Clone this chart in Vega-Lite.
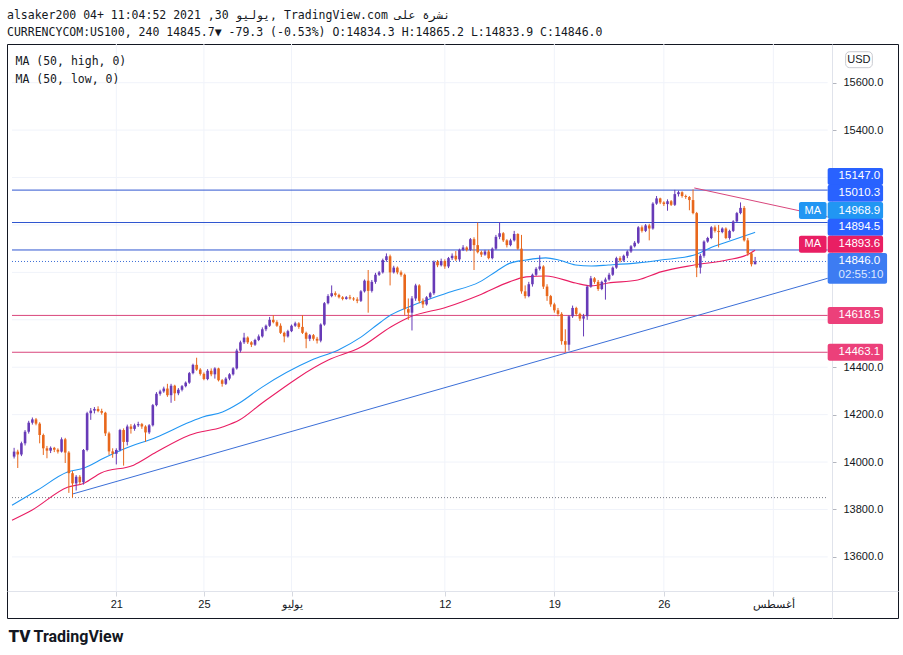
{
"$schema": "https://vega.github.io/schema/vega-lite/v6.json",
"width": 891, "height": 574,
"autosize": {"type": "none"},
"padding": {"left": 7, "top": 44, "right": 5, "bottom": 37},
"background": "white",
"config": {"view": {"stroke": "#131722", "strokeWidth": 1}, "font": "Liberation Sans"},
"title": {"text": "alsaker200 04+ 11:04:52 2021 ,30 يوليو, TradingView.com نشرة على", "subtitle": "CURRENCYCOM:US100, 240 14845.7▼ -79.3 (-0.53%) O:14834.3 H:14865.2 L:14833.9 C:14846.0", "anchor": "start", "frame": "group", "font": "DejaVu Sans Mono", "fontSize": 11.5, "fontWeight": "normal", "color": "#131722", "subtitleFont": "DejaVu Sans Mono", "subtitleFontSize": 11.5, "subtitleColor": "#131722", "subtitlePadding": 6, "offset": 5},
"datasets": {
"bars": [
{"t":-4.667,"o":14023,"h":14060,"l":14015,"c":14044},
{"t":-4.5,"o":14044,"h":14052,"l":13975,"c":14032},
{"t":-4.333,"o":14032,"h":14086,"l":14025,"c":14079},
{"t":-4.167,"o":14079,"h":14135,"l":14070,"c":14128},
{"t":-4,"o":14128,"h":14174,"l":14120,"c":14166},
{"t":-3.833,"o":14166,"h":14188,"l":14158,"c":14180},
{"t":-3.667,"o":14180,"h":14186,"l":14155,"c":14162},
{"t":-3.5,"o":14162,"h":14168,"l":14079,"c":14114},
{"t":-3.333,"o":14114,"h":14120,"l":14030,"c":14058},
{"t":-3.167,"o":14058,"h":14068,"l":14016,"c":14048},
{"t":-3,"o":14048,"h":14066,"l":14038,"c":14060},
{"t":-2.833,"o":14060,"h":14064,"l":14042,"c":14052},
{"t":-2.667,"o":14052,"h":14058,"l":14036,"c":14044},
{"t":-2.5,"o":14044,"h":14104,"l":14040,"c":14096},
{"t":-2.333,"o":14096,"h":14102,"l":13996,"c":14040},
{"t":-2.167,"o":14040,"h":14046,"l":13870,"c":13953},
{"t":-2,"o":13953,"h":13962,"l":13850,"c":13910},
{"t":-1.833,"o":13910,"h":13945,"l":13880,"c":13938},
{"t":-1.667,"o":13938,"h":13945,"l":13905,"c":13915},
{"t":-1.5,"o":13915,"h":14055,"l":13905,"c":14051},
{"t":-1.333,"o":14051,"h":14212,"l":14045,"c":14206},
{"t":-1.167,"o":14206,"h":14228,"l":14178,"c":14217},
{"t":-1,"o":14217,"h":14232,"l":14205,"c":14224},
{"t":-0.833,"o":14224,"h":14235,"l":14210,"c":14215},
{"t":-0.667,"o":14215,"h":14225,"l":14200,"c":14208},
{"t":-0.5,"o":14208,"h":14212,"l":14110,"c":14121},
{"t":-0.333,"o":14121,"h":14128,"l":14030,"c":14045},
{"t":-0.167,"o":14045,"h":14058,"l":14018,"c":14035},
{"t":0,"o":14035,"h":14058,"l":13990,"c":14051},
{"t":0.167,"o":14051,"h":14140,"l":14045,"c":14135},
{"t":0.333,"o":14135,"h":14142,"l":13985,"c":14085},
{"t":0.5,"o":14085,"h":14158,"l":14070,"c":14150},
{"t":0.667,"o":14150,"h":14160,"l":14120,"c":14140},
{"t":0.833,"o":14140,"h":14162,"l":14132,"c":14155},
{"t":1,"o":14155,"h":14170,"l":14148,"c":14160},
{"t":1.167,"o":14160,"h":14165,"l":14140,"c":14150},
{"t":1.333,"o":14150,"h":14155,"l":14085,"c":14125},
{"t":1.5,"o":14125,"h":14160,"l":14118,"c":14155},
{"t":1.667,"o":14155,"h":14245,"l":14150,"c":14240},
{"t":1.833,"o":14240,"h":14295,"l":14235,"c":14288},
{"t":2,"o":14288,"h":14305,"l":14280,"c":14298},
{"t":2.167,"o":14298,"h":14318,"l":14292,"c":14310},
{"t":2.333,"o":14310,"h":14330,"l":14275,"c":14282},
{"t":2.5,"o":14282,"h":14330,"l":14250,"c":14322},
{"t":2.667,"o":14322,"h":14326,"l":14258,"c":14290},
{"t":2.833,"o":14290,"h":14312,"l":14282,"c":14305},
{"t":3,"o":14305,"h":14325,"l":14298,"c":14320},
{"t":3.167,"o":14320,"h":14340,"l":14315,"c":14335},
{"t":3.333,"o":14335,"h":14380,"l":14330,"c":14375},
{"t":3.5,"o":14375,"h":14415,"l":14370,"c":14410},
{"t":3.667,"o":14410,"h":14440,"l":14385,"c":14390},
{"t":3.833,"o":14390,"h":14396,"l":14365,"c":14372},
{"t":4,"o":14372,"h":14378,"l":14345,"c":14350},
{"t":4.167,"o":14350,"h":14392,"l":14345,"c":14385},
{"t":4.333,"o":14385,"h":14395,"l":14362,"c":14370},
{"t":4.5,"o":14370,"h":14400,"l":14352,"c":14395},
{"t":4.667,"o":14395,"h":14398,"l":14340,"c":14345},
{"t":4.833,"o":14345,"h":14350,"l":14318,"c":14330},
{"t":5,"o":14330,"h":14358,"l":14325,"c":14352},
{"t":5.167,"o":14352,"h":14375,"l":14345,"c":14370},
{"t":5.333,"o":14370,"h":14400,"l":14365,"c":14395},
{"t":5.5,"o":14395,"h":14478,"l":14390,"c":14470},
{"t":5.667,"o":14470,"h":14512,"l":14462,"c":14505},
{"t":5.833,"o":14505,"h":14545,"l":14498,"c":14525},
{"t":6,"o":14525,"h":14530,"l":14498,"c":14505},
{"t":6.167,"o":14505,"h":14510,"l":14485,"c":14495},
{"t":6.333,"o":14495,"h":14520,"l":14490,"c":14515},
{"t":6.5,"o":14515,"h":14538,"l":14510,"c":14530},
{"t":6.667,"o":14530,"h":14568,"l":14525,"c":14560},
{"t":6.833,"o":14560,"h":14580,"l":14552,"c":14575},
{"t":7,"o":14575,"h":14612,"l":14570,"c":14600},
{"t":7.167,"o":14600,"h":14620,"l":14585,"c":14590},
{"t":7.333,"o":14590,"h":14598,"l":14570,"c":14575},
{"t":7.5,"o":14575,"h":14585,"l":14540,"c":14545},
{"t":7.667,"o":14545,"h":14550,"l":14505,"c":14530},
{"t":7.833,"o":14530,"h":14558,"l":14525,"c":14552},
{"t":8,"o":14552,"h":14580,"l":14548,"c":14575},
{"t":8.167,"o":14575,"h":14592,"l":14570,"c":14585},
{"t":8.333,"o":14585,"h":14590,"l":14562,"c":14570},
{"t":8.5,"o":14570,"h":14620,"l":14540,"c":14545},
{"t":8.667,"o":14545,"h":14550,"l":14480,"c":14520},
{"t":8.833,"o":14520,"h":14540,"l":14510,"c":14535},
{"t":9,"o":14535,"h":14540,"l":14512,"c":14520},
{"t":9.167,"o":14520,"h":14528,"l":14500,"c":14512},
{"t":9.333,"o":14512,"h":14585,"l":14505,"c":14580},
{"t":9.5,"o":14580,"h":14675,"l":14575,"c":14670},
{"t":9.667,"o":14670,"h":14708,"l":14665,"c":14700},
{"t":9.833,"o":14700,"h":14745,"l":14695,"c":14712},
{"t":10,"o":14712,"h":14720,"l":14698,"c":14705},
{"t":10.167,"o":14705,"h":14710,"l":14690,"c":14695},
{"t":10.333,"o":14695,"h":14700,"l":14682,"c":14688},
{"t":10.5,"o":14688,"h":14700,"l":14685,"c":14695},
{"t":10.667,"o":14695,"h":14705,"l":14685,"c":14690},
{"t":10.833,"o":14690,"h":14696,"l":14680,"c":14686},
{"t":11,"o":14686,"h":14695,"l":14670,"c":14680},
{"t":11.167,"o":14680,"h":14725,"l":14675,"c":14720},
{"t":11.333,"o":14720,"h":14770,"l":14715,"c":14765},
{"t":11.5,"o":14765,"h":14810,"l":14630,"c":14722},
{"t":11.667,"o":14722,"h":14768,"l":14715,"c":14760},
{"t":11.833,"o":14760,"h":14798,"l":14752,"c":14790},
{"t":12,"o":14790,"h":14806,"l":14785,"c":14800},
{"t":12.167,"o":14800,"h":14858,"l":14795,"c":14852},
{"t":12.333,"o":14852,"h":14880,"l":14845,"c":14868},
{"t":12.5,"o":14868,"h":14875,"l":14745,"c":14800},
{"t":12.667,"o":14800,"h":14828,"l":14795,"c":14820},
{"t":12.833,"o":14820,"h":14825,"l":14792,"c":14800},
{"t":13,"o":14800,"h":14808,"l":14782,"c":14790},
{"t":13.167,"o":14790,"h":14795,"l":14620,"c":14645},
{"t":13.333,"o":14645,"h":14690,"l":14600,"c":14630},
{"t":13.5,"o":14630,"h":14700,"l":14555,"c":14690},
{"t":13.667,"o":14690,"h":14752,"l":14680,"c":14745},
{"t":13.833,"o":14745,"h":14750,"l":14670,"c":14680},
{"t":14,"o":14680,"h":14690,"l":14650,"c":14665},
{"t":14.167,"o":14665,"h":14700,"l":14660,"c":14695},
{"t":14.333,"o":14695,"h":14718,"l":14690,"c":14712},
{"t":14.5,"o":14712,"h":14850,"l":14705,"c":14845},
{"t":14.667,"o":14845,"h":14852,"l":14822,"c":14830},
{"t":14.833,"o":14830,"h":14858,"l":14825,"c":14848},
{"t":15,"o":14848,"h":14855,"l":14815,"c":14825},
{"t":15.167,"o":14825,"h":14865,"l":14818,"c":14860},
{"t":15.333,"o":14860,"h":14880,"l":14852,"c":14870},
{"t":15.5,"o":14870,"h":14890,"l":14848,"c":14855},
{"t":15.667,"o":14855,"h":14900,"l":14848,"c":14895},
{"t":15.833,"o":14895,"h":14915,"l":14890,"c":14905},
{"t":16,"o":14905,"h":14910,"l":14888,"c":14895},
{"t":16.167,"o":14895,"h":14945,"l":14890,"c":14940},
{"t":16.333,"o":14940,"h":14948,"l":14810,"c":14915},
{"t":16.5,"o":14915,"h":15010,"l":14880,"c":14885},
{"t":16.667,"o":14885,"h":14892,"l":14865,"c":14875},
{"t":16.833,"o":14875,"h":14895,"l":14870,"c":14888},
{"t":17,"o":14888,"h":14895,"l":14855,"c":14860},
{"t":17.167,"o":14860,"h":14905,"l":14855,"c":14900},
{"t":17.333,"o":14900,"h":14958,"l":14895,"c":14950},
{"t":17.5,"o":14950,"h":15012,"l":14940,"c":14965},
{"t":17.667,"o":14965,"h":14970,"l":14928,"c":14935},
{"t":17.833,"o":14935,"h":14940,"l":14905,"c":14915},
{"t":18,"o":14915,"h":14942,"l":14910,"c":14935},
{"t":18.167,"o":14935,"h":14975,"l":14930,"c":14962},
{"t":18.333,"o":14962,"h":14965,"l":14895,"c":14900},
{"t":18.5,"o":14900,"h":14958,"l":14710,"c":14720},
{"t":18.667,"o":14720,"h":14745,"l":14690,"c":14700},
{"t":18.833,"o":14700,"h":14760,"l":14695,"c":14750},
{"t":19,"o":14750,"h":14795,"l":14740,"c":14790},
{"t":19.167,"o":14790,"h":14822,"l":14785,"c":14815},
{"t":19.333,"o":14815,"h":14872,"l":14808,"c":14825},
{"t":19.5,"o":14825,"h":14830,"l":14730,"c":14740},
{"t":19.667,"o":14740,"h":14750,"l":14680,"c":14700},
{"t":19.833,"o":14700,"h":14705,"l":14655,"c":14665},
{"t":20,"o":14665,"h":14672,"l":14630,"c":14640},
{"t":20.167,"o":14640,"h":14650,"l":14615,"c":14625},
{"t":20.333,"o":14625,"h":14632,"l":14495,"c":14510},
{"t":20.5,"o":14510,"h":14560,"l":14463,"c":14495},
{"t":20.667,"o":14495,"h":14620,"l":14470,"c":14615},
{"t":20.833,"o":14615,"h":14660,"l":14608,"c":14650},
{"t":21,"o":14650,"h":14655,"l":14615,"c":14625},
{"t":21.167,"o":14625,"h":14630,"l":14595,"c":14605},
{"t":21.333,"o":14605,"h":14625,"l":14530,"c":14615},
{"t":21.5,"o":14615,"h":14745,"l":14600,"c":14740},
{"t":21.667,"o":14740,"h":14785,"l":14735,"c":14775},
{"t":21.833,"o":14775,"h":14780,"l":14752,"c":14760},
{"t":22,"o":14760,"h":14768,"l":14722,"c":14730},
{"t":22.167,"o":14730,"h":14765,"l":14725,"c":14760},
{"t":22.333,"o":14760,"h":14778,"l":14685,"c":14770},
{"t":22.5,"o":14770,"h":14798,"l":14765,"c":14790},
{"t":22.667,"o":14790,"h":14825,"l":14785,"c":14820},
{"t":22.833,"o":14820,"h":14866,"l":14815,"c":14860},
{"t":23,"o":14860,"h":14868,"l":14842,"c":14850},
{"t":23.167,"o":14850,"h":14875,"l":14845,"c":14870},
{"t":23.333,"o":14870,"h":14893,"l":14860,"c":14888},
{"t":23.5,"o":14888,"h":14915,"l":14882,"c":14910},
{"t":23.667,"o":14910,"h":14932,"l":14905,"c":14925},
{"t":23.833,"o":14925,"h":14995,"l":14920,"c":14990},
{"t":24,"o":14990,"h":14998,"l":14968,"c":14975},
{"t":24.167,"o":14975,"h":15004,"l":14970,"c":14998},
{"t":24.333,"o":14998,"h":15005,"l":14935,"c":14985},
{"t":24.5,"o":14985,"h":15096,"l":14980,"c":15090},
{"t":24.667,"o":15090,"h":15122,"l":15085,"c":15112},
{"t":24.833,"o":15112,"h":15115,"l":15088,"c":15095},
{"t":25,"o":15095,"h":15100,"l":15080,"c":15088},
{"t":25.167,"o":15088,"h":15108,"l":15060,"c":15100},
{"t":25.333,"o":15100,"h":15105,"l":15080,"c":15085},
{"t":25.5,"o":15085,"h":15148,"l":15080,"c":15130},
{"t":25.667,"o":15130,"h":15145,"l":15120,"c":15138},
{"t":25.833,"o":15138,"h":15142,"l":15115,"c":15122},
{"t":26,"o":15122,"h":15128,"l":15110,"c":15118},
{"t":26.167,"o":15118,"h":15122,"l":15062,"c":15105},
{"t":26.333,"o":15105,"h":15150,"l":15045,"c":15050},
{"t":26.5,"o":15050,"h":15055,"l":14780,"c":14820},
{"t":26.667,"o":14820,"h":14878,"l":14795,"c":14870},
{"t":26.833,"o":14870,"h":14935,"l":14862,"c":14930},
{"t":27,"o":14930,"h":14950,"l":14925,"c":14945},
{"t":27.167,"o":14945,"h":14995,"l":14940,"c":14990},
{"t":27.333,"o":14990,"h":14998,"l":14968,"c":14975},
{"t":27.5,"o":14975,"h":15000,"l":14905,"c":14970},
{"t":27.667,"o":14970,"h":14990,"l":14965,"c":14985},
{"t":27.833,"o":14985,"h":14990,"l":14940,"c":14945},
{"t":28,"o":14945,"h":14980,"l":14938,"c":14975},
{"t":28.167,"o":14975,"h":15020,"l":14970,"c":15015},
{"t":28.333,"o":15015,"h":15055,"l":15010,"c":15050},
{"t":28.5,"o":15050,"h":15095,"l":15045,"c":15072},
{"t":28.667,"o":15072,"h":15080,"l":14930,"c":14935},
{"t":28.833,"o":14935,"h":14945,"l":14870,"c":14880},
{"t":29,"o":14880,"h":14885,"l":14825,"c":14834.3},
{"t":29.167,"o":14834.3,"h":14865.2,"l":14833.9,"c":14846.0}
],
"ma": [
{"t":-4.763,"s":"h","v":13818},{"t":-3.59,"s":"h","v":13882},{"t":-2.23,"s":"h","v":13958},{"t":-1.47,"s":"h","v":13975},{"t":-0.56,"s":"h","v":14017},{"t":0.34,"s":"h","v":14055},{"t":1.83,"s":"h","v":14105},{"t":3.36,"s":"h","v":14169},{"t":3.95,"s":"h","v":14190},{"t":4.85,"s":"h","v":14211},{"t":5.62,"s":"h","v":14249},{"t":6.66,"s":"h","v":14316},{"t":8.92,"s":"h","v":14430},{"t":10.14,"s":"h","v":14473},{"t":11.17,"s":"h","v":14527},{"t":12.08,"s":"h","v":14591},{"t":12.53,"s":"h","v":14620},{"t":13.57,"s":"h","v":14662},{"t":15.1,"s":"h","v":14713},{"t":16.59,"s":"h","v":14760},{"t":17.36,"s":"h","v":14805},{"t":17.95,"s":"h","v":14838},{"t":18.71,"s":"h","v":14852},{"t":19.61,"s":"h","v":14861},{"t":20.2,"s":"h","v":14852},{"t":20.97,"s":"h","v":14831},{"t":21.69,"s":"h","v":14827},{"t":22.46,"s":"h","v":14831},{"t":23.81,"s":"h","v":14840},{"t":24.86,"s":"h","v":14852},{"t":26.39,"s":"h","v":14873},{"t":27.11,"s":"h","v":14903},{"t":27.88,"s":"h","v":14928},{"t":29.167,"s":"h","v":14968.9},
{"t":-4.763,"s":"l","v":13755},{"t":-3.86,"s":"l","v":13797},{"t":-2.23,"s":"l","v":13894},{"t":-1.47,"s":"l","v":13911},{"t":-0.7,"s":"l","v":13954},{"t":0.79,"s":"l","v":13987},{"t":1.83,"s":"l","v":14042},{"t":3.36,"s":"l","v":14114},{"t":4.85,"s":"l","v":14148},{"t":5.62,"s":"l","v":14177},{"t":6.66,"s":"l","v":14249},{"t":9.68,"s":"l","v":14430},{"t":11.17,"s":"l","v":14485},{"t":12.53,"s":"l","v":14570},{"t":13.3,"s":"l","v":14608},{"t":15.1,"s":"l","v":14654},{"t":16.59,"s":"l","v":14705},{"t":17.95,"s":"l","v":14760},{"t":18.71,"s":"l","v":14781},{"t":19.61,"s":"l","v":14785},{"t":20.97,"s":"l","v":14755},{"t":21.69,"s":"l","v":14743},{"t":22.46,"s":"l","v":14755},{"t":23.81,"s":"l","v":14768},{"t":24.86,"s":"l","v":14802},{"t":26.39,"s":"l","v":14831},{"t":27.88,"s":"l","v":14852},{"t":28.78,"s":"l","v":14873},{"t":29.167,"s":"l","v":14893.6}
],
"hl": [
{"v":15147.0,"k":"b"},{"v":15010.3,"k":"b"},{"v":14894.5,"k":"b"},{"v":14618.5,"k":"p"},{"v":14463.1,"k":"p"},{"v":14846.0,"k":"cur"},{"v":13850,"k":"low"}
],
"tl": [
{"t":-2.009,"v":13865,"g":"up"},{"t":32.48,"v":14775,"g":"up"},{"t":26.39,"v":15156,"g":"dn"},{"t":32.48,"v":15034,"g":"dn"}
],
"tags": [
{"v":15147.0,"s":"15147.0","k":"b"},{"v":15010.3,"s":"15010.3","k":"b"},{"v":14968.9,"s":"14968.9","k":"mah"},{"v":14894.5,"s":"14894.5","k":"b"},{"v":14893.6,"s":"14893.6","k":"mal"},{"v":14846.0,"s":"14846.0","k":"cur"},{"v":14618.5,"s":"14618.5","k":"p"},{"v":14463.1,"s":"14463.1","k":"p"}
],
"gx": [{"t":0},{"t":4},{"t":8},{"t":15},{"t":20},{"t":25},{"t":30}],
"gy": [{"v":13600},{"v":13800},{"v":14000},{"v":14200},{"v":14400},{"v":14600},{"v":14800},{"v":15000},{"v":15200},{"v":15400},{"v":15600}]
},
"layer": [
{"data": {"name": "gx"},
 "mark": {"type": "rule", "color": "#f0f3fa", "strokeWidth": 1},
 "encoding": {
  "x": {"field": "t", "type": "quantitative", "scale": {"domain": [-4.763, 35.463], "nice": false, "zero": false},
   "axis": {"orient": "bottom", "offset": -27, "values": [0,4,8,15,20,25,30], "labelExpr": "datum.value==0?'21':datum.value==4?'25':datum.value==8?'يوليو':datum.value==15?'12':datum.value==20?'19':datum.value==25?'26':'أغسطس'", "labelFont": "Liberation Sans", "labelFontSize": 11, "labelColor": "#131722", "tickColor": "#d6d9e0", "tickSize": 5, "labelPadding": 2, "domainColor": "#e0e3eb", "grid": false, "labelFlush": false, "labelOverlap": false, "title": "TradingView", "titleFont": "Roboto", "titleFontSize": 16, "titleFontWeight": "bold", "titleColor": "#131722", "titleX": 26, "titleY": 45, "titleAlign": "left", "titleBaseline": "middle", "titleAngle": 0}},
  "y": {"datum": 15763.2, "type": "quantitative", "scale": {"domain": [13342.3, 15763.2], "nice": false, "zero": false},
   "axis": {"orient": "right", "offset": -66, "values": [13600,13800,14000,14200,14400,15400,15600], "format": ".1f", "labelFont": "Liberation Sans", "labelFontSize": 11, "labelColor": "#131722", "tickSize": 4, "tickColor": "#b2b5be", "labelPadding": 7, "domainColor": "#e0e3eb", "grid": false, "labelFlush": false, "labelOverlap": false, "title": "TV", "titleFont": "Roboto", "titleFontSize": 17, "titleFontWeight": 900, "titleColor": "#131722", "titleAngle": 0, "titleX": -824, "titleY": 592, "titleAlign": "left", "titleBaseline": "middle"}},
  "y2": {"datum": 13456.2}
 }},
{"data": {"name": "gy"},
 "mark": {"type": "rule", "color": "#f0f3fa", "strokeWidth": 1},
 "encoding": {
  "y": {"field": "v", "type": "quantitative", "scale": {"domain": [13342.3, 15763.2], "nice": false, "zero": false}},
  "x": {"datum": -4.763, "type": "quantitative", "scale": {"domain": [-4.763, 35.463], "nice": false, "zero": false}},
  "x2": {"datum": 32.48}
 }},
{"data": {"name": "hl"},
 "transform": [{"filter": "datum.k == 'b'"}],
 "mark": {"type": "rule", "color": "#2f56d0", "strokeWidth": 1},
 "encoding": {
  "y": {"field": "v", "type": "quantitative", "scale": {"domain": [13342.3, 15763.2], "nice": false, "zero": false}},
  "x": {"datum": -4.763, "type": "quantitative", "scale": {"domain": [-4.763, 35.463], "nice": false, "zero": false}},
  "x2": {"datum": 32.48}
 }},
{"data": {"name": "hl"},
 "transform": [{"filter": "datum.k == 'p'"}],
 "mark": {"type": "rule", "color": "#d9467c", "strokeWidth": 1},
 "encoding": {
  "y": {"field": "v", "type": "quantitative", "scale": {"domain": [13342.3, 15763.2], "nice": false, "zero": false}},
  "x": {"datum": -4.763, "type": "quantitative", "scale": {"domain": [-4.763, 35.463], "nice": false, "zero": false}},
  "x2": {"datum": 32.48}
 }},
{"data": {"name": "hl"},
 "transform": [{"filter": "datum.k == 'cur'"}],
 "mark": {"type": "rule", "color": "#3d6fd6", "strokeWidth": 1, "strokeDash": [1, 2]},
 "encoding": {
  "y": {"field": "v", "type": "quantitative", "scale": {"domain": [13342.3, 15763.2], "nice": false, "zero": false}},
  "x": {"datum": -4.763, "type": "quantitative", "scale": {"domain": [-4.763, 35.463], "nice": false, "zero": false}},
  "x2": {"datum": 32.48}
 }},
{"data": {"name": "hl"},
 "transform": [{"filter": "datum.k == 'low'"}],
 "mark": {"type": "rule", "color": "#787b86", "strokeWidth": 1, "strokeDash": [1, 2]},
 "encoding": {
  "y": {"field": "v", "type": "quantitative", "scale": {"domain": [13342.3, 15763.2], "nice": false, "zero": false}},
  "x": {"datum": -4.763, "type": "quantitative", "scale": {"domain": [-4.763, 35.463], "nice": false, "zero": false}},
  "x2": {"datum": 32.48}
 }},
{"data": {"name": "tl"},
 "transform": [{"filter": "datum.g == 'up'"}],
 "mark": {"type": "line", "color": "#3b6fd8", "strokeWidth": 1},
 "encoding": {
  "x": {"field": "t", "type": "quantitative", "scale": {"domain": [-4.763, 35.463], "nice": false, "zero": false}},
  "y": {"field": "v", "type": "quantitative", "scale": {"domain": [13342.3, 15763.2], "nice": false, "zero": false}}
 }},
{"data": {"name": "tl"},
 "transform": [{"filter": "datum.g == 'dn'"}],
 "mark": {"type": "line", "color": "#d9467c", "strokeWidth": 1},
 "encoding": {
  "x": {"field": "t", "type": "quantitative", "scale": {"domain": [-4.763, 35.463], "nice": false, "zero": false}},
  "y": {"field": "v", "type": "quantitative", "scale": {"domain": [13342.3, 15763.2], "nice": false, "zero": false}}
 }},
{"data": {"name": "ma"},
 "mark": {"type": "line", "strokeWidth": 1.1, "interpolate": "monotone"},
 "encoding": {
  "x": {"field": "t", "type": "quantitative", "scale": {"domain": [-4.763, 35.463], "nice": false, "zero": false}},
  "y": {"field": "v", "type": "quantitative", "scale": {"domain": [13342.3, 15763.2], "nice": false, "zero": false}},
  "stroke": {"field": "s", "type": "nominal", "scale": {"domain": ["h", "l"], "range": ["#2196f3", "#e91e63"]},
   "legend": {"orient": "none", "legendX": -3, "legendY": 12, "title": null, "symbolSize": 0, "symbolStrokeWidth": 0, "symbolOpacity": 0, "labelOffset": 0, "labelFont": "DejaVu Sans Mono", "labelFontSize": 11.5, "labelColor": "#131722", "rowPadding": 5.5, "padding": 0, "direction": "vertical", "labelExpr": "datum.label == 'h' ? 'MA (50, high, 0)' : 'MA (50, low, 0)'"}}
 }},
{"data": {"name": "bars"},
 "mark": {"type": "rule", "strokeWidth": 1},
 "encoding": {
  "x": {"field": "t", "type": "quantitative", "scale": {"domain": [-4.763, 35.463], "nice": false, "zero": false}},
  "y": {"field": "l", "type": "quantitative", "scale": {"domain": [13342.3, 15763.2], "nice": false, "zero": false}},
  "y2": {"field": "h"},
  "color": {"condition": {"test": "datum.c >= datum.o", "value": "#673ab7"}, "value": "#e8671c"}
 }},
{"data": {"name": "bars"},
 "mark": {"type": "bar", "size": 2.6, "orient": "vertical"},
 "encoding": {
  "x": {"field": "t", "type": "quantitative", "scale": {"domain": [-4.763, 35.463], "nice": false, "zero": false}},
  "y": {"field": "o", "type": "quantitative", "scale": {"domain": [13342.3, 15763.2], "nice": false, "zero": false}},
  "y2": {"field": "c"},
  "color": {"condition": {"test": "datum.c >= datum.o", "value": "#673ab7"}, "value": "#e8671c"}
 }},
{"data": {"name": "tags"},
 "mark": {"type": "rect", "cornerRadius": 2,
  "yOffset": {"expr": "(datum.v==15147?-13.7:datum.v==15010.3?-29.3:datum.v==14968.9?-21.8:datum.v==14894.5?-22.7:datum.v==14893.6?-5.9:0)-8.5"},
  "y2Offset": {"expr": "(datum.v==15147?-13.7:datum.v==15010.3?-29.3:datum.v==14968.9?-21.8:datum.v==14894.5?-22.7:datum.v==14893.6?-5.9:0)+(datum.v==14846?22.3:8.5)"},
  "x2Offset": {"expr": "datum.v==14846?4:0"}},
 "encoding": {
  "x": {"datum": 32.48, "type": "quantitative", "scale": {"domain": [-4.763, 35.463], "nice": false, "zero": false}},
  "x2": {"datum": 35.01},
  "y": {"field": "v", "type": "quantitative", "scale": {"domain": [13342.3, 15763.2], "nice": false, "zero": false}},
  "y2": {"field": "v"},
  "fill": {"field": "k", "type": "nominal", "scale": {"domain": ["b", "mah", "mal", "cur", "p"], "range": ["#2962ff", "#2196f3", "#e91e63", "#3d7cf2", "#ec407a"]}, "legend": null}
 }},
{"data": {"name": "tags"},
 "transform": [{"filter": "datum.k == 'mah' || datum.k == 'mal'"}],
 "mark": {"type": "rect", "cornerRadius": 2,
  "yOffset": {"expr": "(datum.v==14968.9?-21.8:-5.9)-8.5"},
  "y2Offset": {"expr": "(datum.v==14968.9?-21.8:-5.9)+8.5"}},
 "encoding": {
  "x": {"datum": 31.17, "type": "quantitative", "scale": {"domain": [-4.763, 35.463], "nice": false, "zero": false}},
  "x2": {"datum": 32.43},
  "y": {"field": "v", "type": "quantitative", "scale": {"domain": [13342.3, 15763.2], "nice": false, "zero": false}},
  "y2": {"field": "v"},
  "fill": {"field": "k", "type": "nominal", "scale": {"domain": ["b", "mah", "mal", "cur", "p"], "range": ["#2962ff", "#2196f3", "#e91e63", "#3d7cf2", "#ec407a"]}, "legend": null}
 }},
{"data": {"name": "tags"},
 "mark": {"type": "text", "align": "left", "baseline": "middle", "font": "Liberation Sans", "fontSize": 11.5, "color": "#ffffff",
  "yOffset": {"expr": "datum.v==15147?-13.7:datum.v==15010.3?-29.3:datum.v==14968.9?-21.8:datum.v==14894.5?-22.7:datum.v==14893.6?-5.9:0"}},
 "encoding": {
  "x": {"datum": 32.98, "type": "quantitative", "scale": {"domain": [-4.763, 35.463], "nice": false, "zero": false}},
  "y": {"field": "v", "type": "quantitative", "scale": {"domain": [13342.3, 15763.2], "nice": false, "zero": false}},
  "text": {"field": "s"}
 }},
{"data": {"name": "tags"},
 "transform": [{"filter": "datum.k == 'mah' || datum.k == 'mal'"}],
 "mark": {"type": "text", "align": "center", "baseline": "middle", "font": "Liberation Sans", "fontSize": 11, "color": "#ffffff",
  "yOffset": {"expr": "datum.v==14968.9?-21.8:-5.9"}},
 "encoding": {
  "x": {"datum": 31.8, "type": "quantitative", "scale": {"domain": [-4.763, 35.463], "nice": false, "zero": false}},
  "y": {"field": "v", "type": "quantitative", "scale": {"domain": [13342.3, 15763.2], "nice": false, "zero": false}},
  "text": {"value": "MA"}
 }},
{"data": {"name": "tags"},
 "transform": [{"filter": "datum.k == 'cur'"}],
 "mark": {"type": "text", "align": "left", "baseline": "middle", "font": "Liberation Sans", "fontSize": 11.5, "color": "#dde8ff", "yOffset": 13.8},
 "encoding": {
  "x": {"datum": 32.98, "type": "quantitative", "scale": {"domain": [-4.763, 35.463], "nice": false, "zero": false}},
  "y": {"field": "v", "type": "quantitative", "scale": {"domain": [13342.3, 15763.2], "nice": false, "zero": false}},
  "text": {"value": "02:55:10"}
 }},
{"data": {"values": [{"u": "USD"}]},
 "mark": {"type": "rect", "fill": "#ffffff", "stroke": "#c9cbd1", "strokeWidth": 1, "cornerRadius": 4},
 "encoding": {
  "x": {"datum": 33.3, "type": "quantitative", "scale": {"domain": [-4.763, 35.463], "nice": false, "zero": false}},
  "x2": {"datum": 34.52},
  "y": {"datum": 15730.7, "type": "quantitative", "scale": {"domain": [13342.3, 15763.2], "nice": false, "zero": false}},
  "y2": {"datum": 15663.3}
 }},
{"data": {"values": [{"u": "USD"}]},
 "mark": {"type": "text", "align": "center", "baseline": "middle", "font": "Liberation Sans", "fontSize": 11, "color": "#131722"},
 "encoding": {
  "x": {"datum": 33.905, "type": "quantitative", "scale": {"domain": [-4.763, 35.463], "nice": false, "zero": false}},
  "y": {"datum": 15697, "type": "quantitative", "scale": {"domain": [13342.3, 15763.2], "nice": false, "zero": false}},
  "text": {"field": "u"}
 }}
]
}
